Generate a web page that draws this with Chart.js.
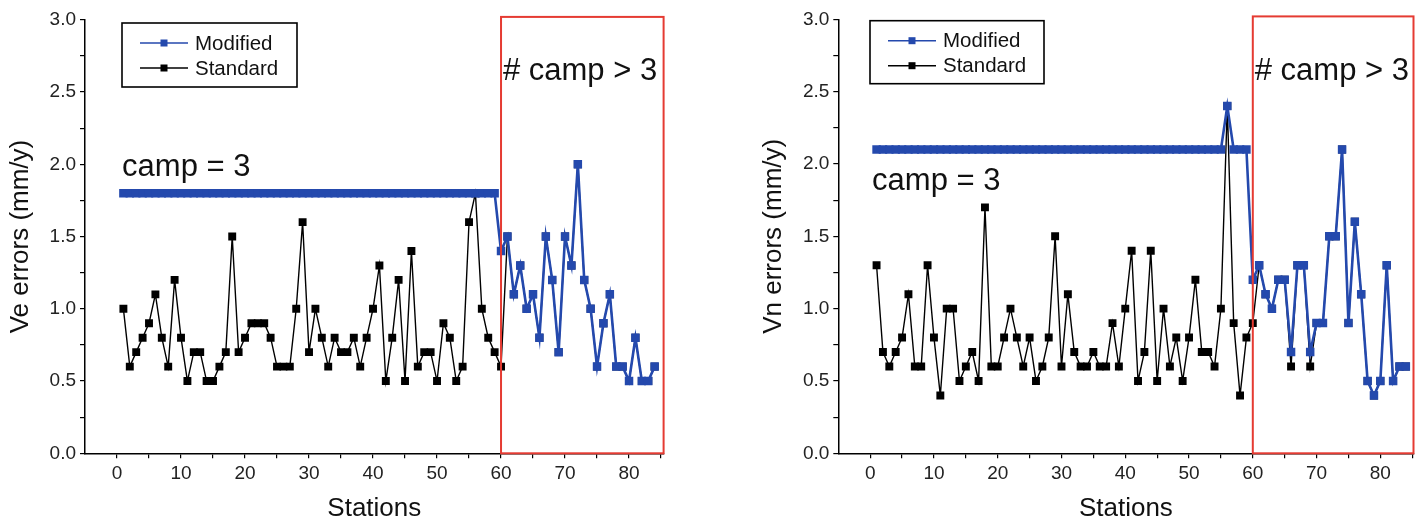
<!DOCTYPE html>
<html>
<head>
<meta charset="utf-8">
<script src="https://cdn.jsdelivr.net/npm/chart.js@4.4.1/dist/chart.umd.min.js"></script>
<style>
  html, body { margin: 0; padding: 0; background: #fff; }
  body { width: 1426px; height: 520px; position: relative; overflow: hidden; }
  .panel { position: absolute; top: 0; height: 520px; }
  #left { left: 0; width: 700px; }
  #right { left: 753px; width: 673px; }
</style>
</head>
<body>
<div class="panel" id="left"><canvas id="chartVe" width="700" height="520"></canvas></div>
<div class="panel" id="right"><canvas id="chartVn" width="673" height="520"></canvas></div>
<script>
// Station numbers (x categories)
const stations = Array.from({ length: 84 }, (_, i) => i + 1);

// Ve errors (mm/y)
const veModified = [
  1.8, 1.8, 1.8, 1.8, 1.8, 1.8, 1.8, 1.8, 1.8, 1.8,
  1.8, 1.8, 1.8, 1.8, 1.8, 1.8, 1.8, 1.8, 1.8, 1.8,
  1.8, 1.8, 1.8, 1.8, 1.8, 1.8, 1.8, 1.8, 1.8, 1.8,
  1.8, 1.8, 1.8, 1.8, 1.8, 1.8, 1.8, 1.8, 1.8, 1.8,
  1.8, 1.8, 1.8, 1.8, 1.8, 1.8, 1.8, 1.8, 1.8, 1.8,
  1.8, 1.8, 1.8, 1.8, 1.8, 1.8, 1.8, 1.8, 1.8, 1.4,
  1.5, 1.1, 1.3, 1.0, 1.1, 0.8, 1.5, 1.2, 0.7, 1.5,
  1.3, 2.0, 1.2, 1.0, 0.6, 0.9, 1.1, 0.6, 0.6, 0.5,
  0.8, 0.5, 0.5, 0.6
];
const veStandard = [
  1.0, 0.6, 0.7, 0.8, 0.9, 1.1, 0.8, 0.6, 1.2, 0.8,
  0.5, 0.7, 0.7, 0.5, 0.5, 0.6, 0.7, 1.5, 0.7, 0.8,
  0.9, 0.9, 0.9, 0.8, 0.6, 0.6, 0.6, 1.0, 1.6, 0.7,
  1.0, 0.8, 0.6, 0.8, 0.7, 0.7, 0.8, 0.6, 0.8, 1.0,
  1.3, 0.5, 0.8, 1.2, 0.5, 1.4, 0.6, 0.7, 0.7, 0.5,
  0.9, 0.8, 0.5, 0.6, 1.6, 1.8, 1.0, 0.8, 0.7, 0.6,
  1.5, 1.1, 1.3, 1.0, 1.1, 0.8, 1.5, 1.2, 0.7, 1.5,
  1.3, 2.0, 1.2, 1.0, 0.6, 0.9, 1.1, 0.6, 0.6, 0.5,
  0.8, 0.5, 0.5, 0.6
];

// Vn errors (mm/y)
const vnModified = [
  2.1, 2.1, 2.1, 2.1, 2.1, 2.1, 2.1, 2.1, 2.1, 2.1,
  2.1, 2.1, 2.1, 2.1, 2.1, 2.1, 2.1, 2.1, 2.1, 2.1,
  2.1, 2.1, 2.1, 2.1, 2.1, 2.1, 2.1, 2.1, 2.1, 2.1,
  2.1, 2.1, 2.1, 2.1, 2.1, 2.1, 2.1, 2.1, 2.1, 2.1,
  2.1, 2.1, 2.1, 2.1, 2.1, 2.1, 2.1, 2.1, 2.1, 2.1,
  2.1, 2.1, 2.1, 2.1, 2.1, 2.4, 2.1, 2.1, 2.1, 1.2,
  1.3, 1.1, 1.0, 1.2, 1.2, 0.7, 1.3, 1.3, 0.7, 0.9,
  0.9, 1.5, 1.5, 2.1, 0.9, 1.6, 1.1, 0.5, 0.4, 0.5,
  1.3, 0.5, 0.6, 0.6
];
const vnStandard = [
  1.3, 0.7, 0.6, 0.7, 0.8, 1.1, 0.6, 0.6, 1.3, 0.8,
  0.4, 1.0, 1.0, 0.5, 0.6, 0.7, 0.5, 1.7, 0.6, 0.6,
  0.8, 1.0, 0.8, 0.6, 0.8, 0.5, 0.6, 0.8, 1.5, 0.6,
  1.1, 0.7, 0.6, 0.6, 0.7, 0.6, 0.6, 0.9, 0.6, 1.0,
  1.4, 0.5, 0.7, 1.4, 0.5, 1.0, 0.6, 0.8, 0.5, 0.8,
  1.2, 0.7, 0.7, 0.6, 1.0, 2.4, 0.9, 0.4, 0.8, 0.9,
  1.3, 1.1, 1.0, 1.2, 1.2, 0.6, 1.3, 1.3, 0.6, 0.9,
  0.9, 1.5, 1.5, 2.1, 0.9, 1.6, 1.1, 0.5, 0.4, 0.5,
  1.3, 0.5, 0.6, 0.6
];

// Ticks
const xTickValues = [0, 5, 10, 15, 20, 25, 30, 35, 40, 45, 50, 55, 60, 65, 70, 75, 80, 85];
const xTickLabels = [0, 10, 20, 30, 40, 50, 60, 70, 80];
const yTickValues = [0, 0.25, 0.5, 0.75, 1, 1.25, 1.5, 1.75, 2, 2.25, 2.5, 2.75, 3];
const yTickLabels = [0, 0.5, 1, 1.5, 2, 2.5, 3];

const blue = '#2449ad';
const black = '#000';
const red = '#e53b32';
const FONT = '"Liberation Sans", Arial, Helvetica, sans-serif';

// Red frame, in-plot notes and the boxed legend
const decorPlugin = {
  id: 'decor',
  afterDatasetsDraw(chart, args, opts) {
    const { ctx, scales: { x, y } } = chart;
    ctx.save();
    ctx.strokeStyle = red;
    ctx.lineWidth = 2;
    const l = x.getPixelForValue(opts.boxFrom);
    const r = x.getPixelForValue(x.max);
    const t = y.getPixelForValue(opts.boxTop);
    const b = y.getPixelForValue(0);
    ctx.strokeRect(l, t, r - l, b - t);

    ctx.fillStyle = '#111';
    ctx.font = '31px ' + FONT;
    ctx.textBaseline = 'alphabetic';
    ctx.textAlign = 'left';
    opts.notes.forEach(n => ctx.fillText(n.text, x.getPixelForValue(n.x), y.getPixelForValue(n.y)));
    ctx.restore();
  },
  afterDraw(chart, args, opts) {
    const { ctx, chartArea } = chart;
    const lg = opts.legend;
    const bx = chartArea.left + lg.dx;
    const by = chartArea.top + lg.dy;
    ctx.save();
    ctx.fillStyle = '#fff';
    ctx.fillRect(bx, by, lg.w, lg.h);
    ctx.strokeStyle = '#000';
    ctx.lineWidth = 1.6;
    ctx.strokeRect(bx, by, lg.w, lg.h);
    chart.data.datasets.forEach((ds, i) => {
      const cy = by + 20 + i * 25;
      ctx.strokeStyle = ds.borderColor;
      ctx.lineWidth = 1.5;
      ctx.beginPath();
      ctx.moveTo(bx + 18, cy);
      ctx.lineTo(bx + 66, cy);
      ctx.stroke();
      ctx.fillStyle = ds.pointBackgroundColor;
      ctx.fillRect(bx + 42 - 3.5, cy - 3.5, 7, 7);
      ctx.fillStyle = '#111';
      ctx.font = '20.5px ' + FONT;
      ctx.textBaseline = 'middle';
      ctx.fillText(ds.label, bx + 73, cy + 1);
    });
    ctx.restore();
  }
};

function makeDatasets(modified, standard) {
  return [
    {
      label: 'Modified',
      data: stations.map((s, i) => ({ x: s, y: modified[i] })),
      borderColor: blue,
      backgroundColor: blue,
      pointBackgroundColor: blue,
      pointBorderWidth: 0,
      borderWidth: 2.6,
      pointStyle: 'rect',
      pointRadius: 6,
      tension: 0
    },
    {
      label: 'Standard',
      data: stations.map((s, i) => ({ x: s, y: standard[i] })),
      borderColor: black,
      backgroundColor: black,
      pointBackgroundColor: black,
      pointBorderWidth: 0,
      borderWidth: 1.4,
      pointStyle: 'rect',
      pointRadius: 5.6,
      tension: 0
    }
  ];
}

function makeChart(canvasId, cfg) {
  const tickFont = { family: FONT, size: 19 };
  const titleFont = { family: FONT, size: 26, lineHeight: 1 };
  return new Chart(document.getElementById(canvasId), {
    type: 'line',
    data: { datasets: makeDatasets(cfg.modified, cfg.standard) },
    options: {
      responsive: false,
      animation: false,
      events: [],
      layout: { padding: { left: 0, right: cfg.padRight, top: cfg.padTop, bottom: 0 } },
      plugins: {
        legend: { display: false },
        tooltip: { enabled: false },
        decor: { boxFrom: 60, boxTop: 3.02, notes: cfg.notes, legend: cfg.legend }
      },
      scales: {
        x: {
          type: 'linear',
          min: -5,
          max: cfg.xMax,
          afterBuildTicks: s => { s.ticks = xTickValues.map(v => ({ value: v })); },
          afterFit: s => { s.height = 520 - cfg.axisY; },
          ticks: {
            autoSkip: false,
            maxRotation: 0,
            padding: 4,
            color: '#222',
            font: tickFont,
            callback: v => xTickLabels.includes(v) ? String(v) : ''
          },
          grid: { drawOnChartArea: false, drawTicks: true, tickLength: 5, color: '#000', lineWidth: 1.2 },
          border: { display: true, color: '#000', width: 1.5 },
          title: { display: true, text: 'Stations', color: '#111', font: titleFont, padding: { top: 0, bottom: -2 } }
        },
        y: {
          min: 0,
          max: 3,
          afterBuildTicks: s => { s.ticks = yTickValues.map(v => ({ value: v })); },
          afterFit: s => { s.width = cfg.axisX; },
          ticks: {
            autoSkip: false,
            padding: 4,
            color: '#222',
            font: tickFont,
            callback: v => yTickLabels.includes(v) ? v.toFixed(1) : ''
          },
          grid: { drawOnChartArea: false, drawTicks: true, tickLength: 5, color: '#000', lineWidth: 1.2 },
          border: { display: true, color: '#000', width: 1.5 },
          title: { display: true, text: cfg.yTitle, color: '#111', font: titleFont, padding: { top: 8, bottom: 0 } }
        }
      }
    },
    plugins: [decorPlugin]
  });
}

makeChart('chartVe', {
  modified: veModified,
  standard: veStandard,
  yTitle: 'Ve errors (mm/y)',
  xMax: 85.4,
  axisX: 85,
  axisY: 453.3,
  padTop: 19.8,
  padRight: 700 - 663.6,
  notes: [
    { text: 'camp = 3', x: 0.8, y: 1.92 },
    { text: '# camp > 3', x: 60.3, y: 2.58 }
  ],
  legend: { dx: 37, dy: 3.2, w: 175, h: 64 }
});

makeChart('chartVn', {
  modified: vnModified,
  standard: vnStandard,
  yTitle: 'Vn errors (mm/y)',
  xMax: 85.2,
  axisX: 85.3,
  axisY: 453.3,
  padTop: 19.3,
  padRight: 673 - 660.5,
  notes: [
    { text: 'camp = 3', x: 0.3, y: 1.82 },
    { text: '# camp > 3', x: 60.3, y: 2.58 }
  ],
  legend: { dx: 31.7, dy: 1.4, w: 174, h: 63 }
});
</script>
</body>
</html>
